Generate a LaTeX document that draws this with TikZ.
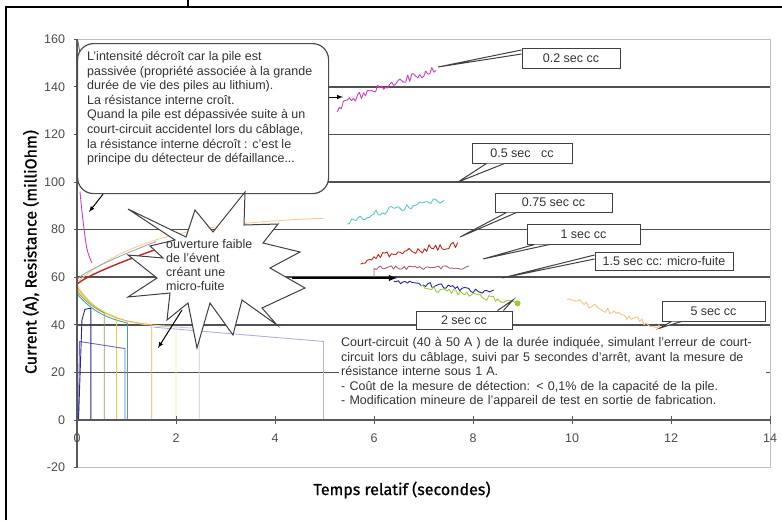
\documentclass[tikz,border=0pt]{standalone}
\usepackage{fontspec}
\setmainfont{Liberation Sans}
\newfontfamily\titlefont[FakeBold=1]{Fira Sans}

\definecolor{gridgray}{RGB}{80,80,80}
\definecolor{navy}{RGB}{40,40,150}
\definecolor{pinkish}{RGB}{205,60,200}
\definecolor{tealc}{RGB}{90,200,200}
\definecolor{darkred}{RGB}{190,40,30}
\definecolor{mauve}{RGB}{180,90,130}
\definecolor{olivec}{RGB}{150,150,90}
\definecolor{yellowc}{RGB}{220,210,80}
\definecolor{orangec}{RGB}{240,170,80}
\definecolor{peach}{RGB}{245,195,140}
\definecolor{lavender}{RGB}{175,175,225}
\definecolor{greenc}{RGB}{160,200,60}

\tikzset{
  frame line/.style={draw=black, line width=1.2pt},
  grid line/.style={draw=gridgray, line width=1.6pt},
  axis line/.style={draw=black!65, line width=1.6pt},
  tick label/.style={font=\fontsize{12.5}{14}\selectfont, text=black!70},
  curve/.style={line width=0.9pt, line join=round},
  cc box/.style={draw=black!75, line width=1pt, fill=white, inner sep=0pt,
    font=\fontsize{12.5}{14}\selectfont, text=black!80},
  cc tail/.style={draw=black!75, line width=1pt, fill=white},
  pointer/.style={-latex, line width=1pt, black},
  note font/.style={font=\fontsize{12.5}{14.6}\selectfont, text=black!80},
}

\begin{document}
\begin{tikzpicture}[x=1pt,y=-1pt]
\useasboundingbox (0,0) rectangle (782,520);
% page frame
\draw[frame line] (6,520) -- (6,7) -- (782,7);
\draw[frame line] (188,0) -- (188,7);

% chart in data units: seconds / A or milliOhm
\begin{scope}[shift={(77,420)},x=49.5pt,y=2.38pt]
\pgfmathsetseed{42}
\draw[black!25, line width=1pt] (0,-20) rectangle (14,160);
\foreach \v in {20,40,...,140}
  \draw[grid line] (0,\v) -- (14,\v);

% current during the short circuit
\draw[curve, lavender] (1.55,39) -- (4.98,33) -- (4.98,0);
\draw[curve, lavender!70] (1.6,39.5) -- (2.47,38.5) -- (2.47,0);
\draw[curve, yellowc!50] plot[domain=0:2, samples=25] (\x,{39+18*exp(-\x/0.5)}) -- (2,0);
\draw[curve, orangec] plot[domain=0:1.51, samples=25] (\x,{39+17*exp(-\x/0.55)}) -- (1.51,0);
\draw[curve, tealc!80!black] plot[domain=0:1.02, samples=20] (\x,{38+15*exp(-\x/0.6)}) -- (1.02,0);
\draw[curve, yellowc] plot[domain=0:0.8, samples=20] (\x,{39+16*exp(-\x/0.6)}) -- (0.8,0);
\draw[curve, olivec] plot[domain=0:0.55, samples=20] (\x,{39+15*exp(-\x/0.6)}) -- (0.55,0);
\draw[curve, navy!70] (0.03,0) -- (0.05,33) -- (0.97,30) -- (0.97,0);
\draw[curve, navy] (0.03,0) -- (0.1,42) -- (0.16,46.5) -- (0.28,47) -- (0.28,0);
\draw[curve, navy] (3.2,0.4) -- (3.55,0.4);
\draw[curve, black!60] (0.01,160) -- (0.07,153);

% resistance during the short circuit
\draw[curve, orangec!60] plot[domain=0:5, samples=30] (\x,{58+28*(1-exp(-\x/1.6))});
\draw[curve, black!35] plot[domain=0:1.6, samples=20] (\x,{59+16*(\x/1.6)^0.8});
\draw[curve, darkred, line width=1.4pt] plot[domain=0.01:1.78, samples=20] (\x,{57+16*(\x/1.78)^0.8});
\draw[curve, pinkish] plot[smooth] coordinates {(0.06,96) (0.12,84) (0.2,72) (0.3,66)};

% resistance measured 5 s after
\draw[curve, pinkish] plot[domain=5.26:7.25, samples=50] (\x,{130+17*((\x-5.25)/2)^0.7+1.6*rand});
\draw[curve, tealc] plot[domain=5.46:7.42, samples=45] (\x,{83+10*((\x-5.45)/1.97)^0.8+1.5*rand});
\draw[curve, darkred] plot[domain=5.73:7.69, samples=45] (\x,{66+7.5*((\x-5.72)/1.97)^0.6+1.6*rand});
\draw[curve, mauve] (6,60) -- plot[domain=6:7.92, samples=45] (\x,{64+0.8*rand});
\draw[curve, navy] plot[domain=6.4:8.42, samples=45] (\x,{58-2*(\x-6.4)+1.2*rand});
\draw[curve, greenc] plot[domain=6.94:8.9, samples=45] (\x,{56-3.5*(\x-6.94)+1.2*rand});
\fill[greenc] (8.9,49) circle (3pt);
\draw[curve, peach] plot[domain=9.9:11.8, samples=45] (\x,{51-6.3*(\x-9.9)+1.3*rand});

% axes and ticks
\draw[axis line] (0,-20) -- (0,160);
\draw[axis line] (0,0) -- (14,0);
\foreach \v in {-20,0,...,160} {
  \draw[black!65, line width=0.8pt] (-0.07,\v) -- (0,\v);
  \node[tick label, anchor=east] (y\v) at (-0.17,\v) {\v};
}
\foreach \t in {0,2,...,14} {
  \draw[black!65, line width=0.8pt] (\t,-1.5) -- (\t,1.5);
  \node[tick label] (x\t) at (\t,-7.8) {\t};
}
\end{scope}

% axis titles
\node[rotate=90, font=\titlefont\fontsize{16}{18}\selectfont] (ytitle) at (31,252) {Current (A), Resistance (milliOhm)};
\node[font=\titlefont\fontsize{16}{18}\selectfont] (xtitle) at (402,490) {Temps relatif (secondes)};

% explanation below the curves
\node[note font, fill=white, anchor=north west, align=left, text width=423pt, inner sep=2pt] (expl) at (339,335)
  {Court-circuit (40 à 50 A ) de la durée indiquée, simulant l'erreur de court-\\
   circuit lors du câblage, suivi par 5 secondes d'arrêt, avant la mesure de\\
   résistance interne sous 1 A.\\
   - Coût de la mesure de détection: < 0,1\% de la capacité de la pile.\\
   - Modification mineure de l'appareil de test en sortie de fabrication.};

% big rounded note
\node[draw=black!70, line width=1.2pt, rounded corners=16pt, fill=white, inner sep=0pt,
  minimum width=251pt, minimum height=150pt, anchor=north west] (note) at (77,43) {};
\node[note font, anchor=north west, align=left, inner sep=0pt] (notetext) at (87,51)
  {L'intensité décroît car la pile est\\
   passivée (propriété associée à la grande\\
   durée de vie des piles au lithium).\\
   La résistance interne croît.\\
   Quand la pile est dépassivée suite à un\\
   court-circuit accidentel lors du câblage,\\
   la résistance interne décroît : c'est le\\
   principe du détecteur de défaillance...};
\coordinate (notetip) at (89,212);
\coordinate (pinktip) at (343,97);
\draw[pointer] ([xshift=26pt]note.south west) -- (notetip);
\draw[pointer] (note.east |- pinktip) -- (pinktip);

% star
\draw[draw=black!75, line width=1pt, fill=white, line join=miter]
  (128,209) -- (186,237) -- (195,210) -- (213,232) -- (245,192) -- (244,225)
  -- (278,224) -- (263,243) -- (300,252) -- (270,268) -- (305,288) -- (262,308)
  -- (277,325) -- (242,300) -- (233,335) -- (210,303) -- (197,348) -- (188,303)
  -- (167,320) -- (170,293) -- (128,297) -- (157,278) -- (128,255) -- (163,258)
  -- (150,246) -- (175,240) -- cycle;
\node[note font, font=\fontsize{12.5}{14}\selectfont, anchor=north west, align=left, inner sep=0pt] (startext) at (166,239)
  {ouverture faible\\ de l'évent\\ créant une\\ micro-fuite};
\coordinate (starfoot) at (182,310);
\coordinate (startip) at (158,348);
\coordinate (starright) at (292,278);
\coordinate (bluetip) at (397,278);
\draw[pointer] (starfoot) -- (startip);
\draw[pointer, line width=1.8pt] (starright) -- (bluetip);

% duration labels
\node[cc box, minimum width=98pt, minimum height=20pt] (cc02) at (571,58) {0.2 sec cc};
\node[cc box, minimum width=100pt, minimum height=20pt] (cc05) at (522,153) {0.5 sec \ \ cc};
\node[cc box, minimum width=117pt, minimum height=19pt] (cc075) at (553.5,202.5) {0.75 sec cc};
\node[cc box, minimum width=113pt, minimum height=20pt] (cc1) at (583.5,234) {1 sec cc};
\node[cc box, minimum width=138pt, minimum height=18pt] (cc15) at (664,261) {1.5 sec cc: micro-fuite};
\node[cc box, minimum width=96pt, minimum height=18pt] (cc2) at (464,320) {2 sec cc};
\node[cc box, minimum width=103pt, minimum height=20pt] (cc5) at (713.5,311) {5 sec cc};

\coordinate (tip02) at (438,67);
\coordinate (tip05) at (458,182);
\coordinate (tip075) at (460,237);
\coordinate (tip1) at (483,259);
\coordinate (tip15) at (502,278);
\coordinate (tip2) at (513,300);
\coordinate (tip5) at (660,328);
\draw[cc tail] ([yshift=4pt]cc02.west) -- (tip02) -- ([yshift=8pt]cc02.west);
\draw[cc tail] ([xshift=15pt]cc05.south west) -- (tip05) -- ([xshift=33pt]cc05.south west);
\draw[cc tail] ([xshift=12pt]cc075.south west) -- (tip075) -- ([xshift=22pt]cc075.south west);
\draw[cc tail] ([xshift=8pt]cc1.south west) -- (tip1) -- ([xshift=23pt]cc1.south west);
\draw[cc tail] ([yshift=2pt]cc15.west) -- (tip15) -- ([yshift=6pt]cc15.west);
\draw[cc tail] ([xshift=-15pt]cc2.north east) -- (tip2) -- ([xshift=-9pt]cc2.north east);
\draw[cc tail] ([xshift=10pt]cc5.south west) -- (tip5) -- ([xshift=20pt]cc5.south west);
\end{tikzpicture}
\end{document}
